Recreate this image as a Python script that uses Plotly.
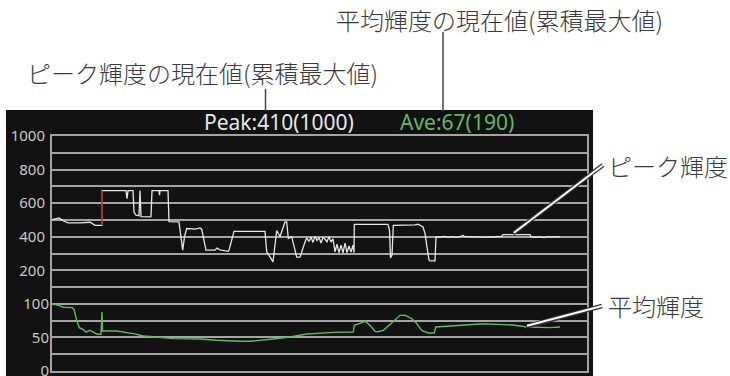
import plotly.graph_objects as go

# ---- data -------------------------------------------------------------
# frame index along the time axis
peak_t = [0, 7, 11, 16, 28, 38, 43, 50, 50, 74, 75, 76, 81, 82, 84, 87, 88, 88.5,
          89, 98, 99, 100, 107, 107.5, 108, 116, 117, 127, 128.7, 130.7, 132.5,
          134.7, 143, 148, 149.7, 152, 154, 163, 165, 168, 176, 177, 182, 213,
          214.7, 218, 221, 224.7, 228, 233, 234.7, 236.3, 239.7, 244.7, 248, 253,
          254.7, 257, 259, 261, 263, 265, 267, 269, 271, 273, 275, 277, 279, 281,
          283, 285, 287, 289, 291, 293, 295, 297, 299, 301, 302, 302.3, 336,
          337.5, 338.5, 340, 341.3, 363, 366, 371, 373, 374.7, 377, 378, 383, 384,
          388, 392, 396, 400, 404, 408, 411, 413, 417, 421, 425, 429, 433, 437,
          441, 445, 449, 451, 478, 479, 484, 488, 492, 496, 500, 504, 508]
# peak luminance (nits)
peak_val = [502, 512, 495, 483, 482, 486, 468, 468, 675, 675, 627, 675, 675, 545,
            528, 525, 675, 600, 520, 518, 520, 675, 675, 647, 675, 675, 490, 488,
            400, 320, 400, 449, 445, 452, 445, 380, 320, 320, 332, 322, 313, 320,
            432, 432, 310, 280, 250, 437, 400, 488, 488, 389, 400, 278, 278, 368,
            393, 372, 398, 366, 402, 378, 395, 362, 396, 385, 370, 400, 368, 388,
            310, 355, 305, 350, 304, 362, 306, 345, 308, 350, 305, 474, 474,
            440, 274, 290, 468, 470, 474, 458, 420, 350, 262, 256, 256, 400,
            397, 402, 398, 401, 396, 401, 408, 400, 399, 402, 397, 400, 398, 401,
            397, 402, 399, 412, 412, 400, 397, 401, 395, 400, 398, 401, 399]

# average luminance (nits)
ave_t = [0, 6, 11, 20, 22, 24.7, 27.3, 31.3, 34, 38, 41.3, 44.7, 49, 50, 50.5,
         64.7, 81.3, 91.3, 104.7, 121.3, 148, 164.7, 188, 198, 221.3, 238, 254.7,
         281.3, 301.3, 302.3, 308, 313, 318, 323, 326, 331.3, 340, 348, 353,
         359.7, 364, 369.7, 376.3, 382.3, 383.7, 404.7, 428, 434.7, 461.3, 474.7,
         498, 508]
ave_val = [100, 98, 95, 94.4, 92, 75.5, 64.6, 61.6, 58, 60.6, 58, 55, 54.6, 87.8,
           59.5, 59.5, 55.6, 52.1, 50.6, 48.2, 47.7, 45.7, 44.2, 44.2, 47.7, 50.6,
           55.1, 57.6, 58, 68, 71, 74, 68, 59.1, 58.5, 60.6, 72, 82.9, 83, 78, 72,
           60.6, 56.6, 56.6, 65.5, 68, 70, 70, 68.5, 65.5, 64.6, 65.5]

assert len(peak_t) == len(peak_val)
assert len(ave_t) == len(ave_val)

peak_ticks = [200, 400, 600, 800, 1000]
ave_ticks = [0, 50, 100]
peak_now, peak_max = 410, 1000
ave_now, ave_max = 67, 190

# ---- layout geometry (pixels) ----------------------------------------
W, H = 730, 376
L, R, T, B = 52, 143, 136, 5
PW, PH = W - L - R, H - T - B


def px(x):
    return (x - L) / PW


def py(y):
    return (H - B - y) / PH


GRID = "#a4a4a4"
PANEL = "#121212"
GREEN = "#62b862"
INK = "#3a3a3a"
JP = "Noto Sans CJK JP"
TICKFONT = dict(family="Noto Sans", size=15, color="#c8c8c8")

fig = go.Figure()

fig.add_trace(go.Scatter(x=peak_t, y=peak_val, mode="lines",
                         line=dict(color="#e6e6e6", width=1.3),
                         hoverinfo="skip", showlegend=False))
# the jump into the high plateau is marked in red
fig.add_trace(go.Scatter(x=peak_t[7:9], y=peak_val[7:9], mode="lines",
                         line=dict(color="#a01818", width=1.5),
                         hoverinfo="skip", showlegend=False))
fig.add_trace(go.Scatter(x=ave_t, y=ave_val, mode="lines", yaxis="y2",
                         line=dict(color=GREEN, width=1.4),
                         hoverinfo="skip", showlegend=False))

grid_vals = list(range(-400, 1001, 100))
grid_text = [str(v) if v in peak_ticks else "" for v in grid_vals]

fig.update_layout(
    width=W, height=H,
    margin=dict(l=L, r=R, t=T, b=B, pad=0, autoexpand=False),
    paper_bgcolor="white",
    plot_bgcolor=PANEL,
    xaxis=dict(range=[0, PW], showgrid=False, zeroline=False,
               showticklabels=False, ticks="", showline=True, mirror=True,
               linecolor=GRID, linewidth=2, fixedrange=True, automargin=False),
    yaxis=dict(range=[-400, 1000], tickmode="array", tickvals=grid_vals,
               ticktext=grid_text, showgrid=True, gridcolor=GRID, gridwidth=2,
               zeroline=False, showline=True, mirror=True, linecolor=GRID,
               linewidth=2, ticks="", ticklabelstandoff=2, tickfont=TICKFONT,
               ticklabeloverflow="allow", automargin=False),
    # the lower band shares the plot area on a finer scale
    yaxis2=dict(range=[0, 350], overlaying="y", side="left", anchor="x",
                tickmode="array", tickvals=ave_ticks,
                ticktext=[str(v) for v in ave_ticks], showgrid=False,
                zeroline=False, showline=False, ticks="", ticklabelstandoff=2,
                tickfont=TICKFONT, ticklabeloverflow="allow", automargin=False),
)

shapes = [
    # dark monitor panel
    dict(type="rect", xref="paper", yref="paper", layer="below",
         x0=px(6), x1=px(593), y0=py(376), y1=py(110),
         fillcolor=PANEL, line=dict(width=0)),
    # leader lines to the readouts
    dict(type="line", xref="paper", yref="paper", x0=px(265.5), x1=px(265.5),
         y0=py(89), y1=py(111), line=dict(color="#444444", width=1.5)),
    dict(type="line", xref="paper", yref="paper", x0=px(443), x1=px(443),
         y0=py(32), y1=py(111), line=dict(color="#444444", width=1.5)),
]
# double-stroke callouts to the curves
for (x0, y0, x1, y1) in [(603, 165, 513, 233.5), (602, 306, 526, 326.5)]:
    shapes.append(dict(type="line", xref="paper", yref="paper",
                       x0=px(x0), y0=py(y0), x1=px(x1), y1=py(y1),
                       line=dict(color="#333333", width=4.5)))
    shapes.append(dict(type="line", xref="paper", yref="paper",
                       x0=px(x0), y0=py(y0), x1=px(x1 + 1), y1=py(y1 - 0.7),
                       line=dict(color="white", width=2)))
fig.update_layout(shapes=shapes)

annotations = [
    dict(text=f"Peak:{peak_now}({peak_max})", x=px(278.5), y=py(122),
         font=dict(family="Noto Sans", size=21, color="#e8e8e8")),
    dict(text=f"Ave:{ave_now}({ave_max})", x=px(457), y=py(122),
         font=dict(family="Noto Sans", size=21, color=GREEN)),
    dict(text="平均輝度の現在値(累積最大値)", x=px(334), y=py(19),
         xanchor="left",
         font=dict(family=JP, size=24, color=INK, weight=300)),
    dict(text="ピーク輝度の現在値(累積最大値)", x=px(25), y=py(72),
         xanchor="left",
         font=dict(family=JP, size=24, color=INK, weight=300)),
    dict(text="ピーク輝度", x=px(606), y=py(165), xanchor="left",
         font=dict(family=JP, size=24, color=INK, weight=300)),
    dict(text="平均輝度", x=px(606), y=py(305), xanchor="left",
         font=dict(family=JP, size=24, color=INK, weight=300)),
]
for a in annotations:
    a.setdefault("xanchor", "center")
    a.update(xref="paper", yref="paper", yanchor="middle", showarrow=False)
fig.update_layout(annotations=annotations)

fig.write_html("out.html", config={"displayModeBar": False})
